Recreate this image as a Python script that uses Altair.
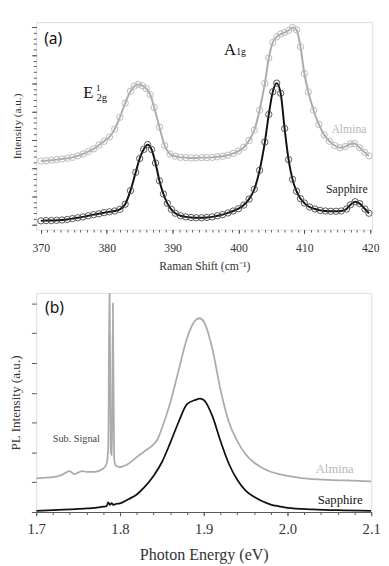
import altair as alt
import pandas as pd

SERIF = "Liberation Serif"

# ---------------- (a) Raman spectra ----------------
raman_shift_almina = [370.0, 370.8, 371.6, 372.4, 373.2, 374.0, 374.8, 375.6, 376.4, 377.2,
                      378.0, 378.8, 379.6, 380.4, 381.2, 382.0, 382.8, 383.6, 384.2, 384.8,
                      385.4, 386.0, 386.6, 387.2, 388.0, 388.8, 389.6, 390.4, 391.2, 392.0,
                      392.8, 393.6, 394.4, 395.2, 396.0, 396.8, 397.6, 398.4, 399.2, 400.0,
                      400.8, 401.6, 402.4, 403.2, 404.0, 404.6, 405.2, 405.8, 406.4, 407.0,
                      407.6, 408.2, 408.8, 409.4, 410.0, 410.6, 411.4, 412.2, 413.0, 413.8,
                      414.6, 415.4, 416.2, 417.0, 417.6, 418.4, 419.2, 419.8]
raman_int_almina = [2.25, 2.26, 2.28, 2.30, 2.32, 2.35, 2.38, 2.43, 2.50, 2.58,
                    2.68, 2.82, 2.95, 3.10, 3.38, 3.80, 4.30, 4.72, 4.90, 4.96,
                    4.92, 4.82, 4.60, 4.15, 3.45, 2.80, 2.50, 2.42, 2.38, 2.37,
                    2.36, 2.36, 2.37, 2.37, 2.38, 2.40, 2.42, 2.46, 2.52, 2.60,
                    2.74, 2.98, 3.35, 4.05, 5.00, 5.90, 6.45, 6.65, 6.75, 6.80,
                    6.88, 6.98, 6.90, 6.30, 5.35, 4.70, 4.05, 3.55, 3.18, 2.95,
                    2.80, 2.72, 2.76, 2.86, 2.87, 2.72, 2.55, 2.43]

raman_shift_sapph = [370.0, 370.8, 371.6, 372.4, 373.2, 374.0, 374.8, 375.6, 376.4, 377.2,
                     378.0, 378.8, 379.6, 380.4, 381.2, 382.0, 382.8, 383.6, 384.4, 385.0,
                     385.6, 386.2, 386.8, 387.4, 388.0, 388.6, 389.2, 389.8, 390.4, 391.2,
                     392.0, 392.8, 393.6, 394.4, 395.2, 396.0, 396.8, 397.6, 398.4, 399.2,
                     400.0, 400.8, 401.6, 402.4, 403.2, 404.0, 404.6, 405.2, 405.8, 406.4,
                     407.0, 407.6, 408.2, 408.8, 409.4, 410.0, 410.8, 411.6, 412.4, 413.2,
                     414.0, 414.8, 415.6, 416.4, 417.0, 417.7, 418.4, 419.2, 419.8]
raman_int_sapph = [0.13, 0.14, 0.14, 0.15, 0.16, 0.18, 0.21, 0.24, 0.27, 0.31,
                   0.35, 0.38, 0.42, 0.45, 0.48, 0.54, 0.72, 1.20, 1.85, 2.34,
                   2.66, 2.83, 2.66, 2.18, 1.55, 1.08, 0.75, 0.54, 0.40, 0.31,
                   0.27, 0.25, 0.24, 0.24, 0.25, 0.27, 0.31, 0.35, 0.41, 0.48,
                   0.56, 0.69, 0.90, 1.25, 1.92, 2.92, 3.90, 4.70, 5.01, 4.65,
                   3.40, 2.30, 1.60, 1.18, 0.92, 0.76, 0.62, 0.55, 0.50, 0.48,
                   0.47, 0.47, 0.48, 0.55, 0.70, 0.81, 0.74, 0.55, 0.40]

raman_ticks = [370, 380, 390, 400, 410, 420]
raman_minor = list(range(370, 421))
raman_y_ticks = [0, 1, 2, 3, 4, 5, 6, 7]
raman_y_minor = [round(i * 0.2, 1) for i in range(0, 36)]

# ---------------- (b) PL spectra ----------------
pl_energy_almina = [1.700, 1.710, 1.720, 1.730, 1.740, 1.745, 1.750, 1.755, 1.760, 1.770,
                    1.780, 1.784, 1.786, 1.7875, 1.789, 1.7905, 1.7915, 1.793, 1.795, 1.800,
                    1.810, 1.820, 1.830, 1.840, 1.845, 1.850, 1.860, 1.870, 1.880, 1.890,
                    1.895, 1.900, 1.910, 1.920, 1.930, 1.940, 1.950, 1.960, 1.970, 1.980,
                    1.990, 2.000, 2.020, 2.050, 2.080, 2.100]
pl_int_almina = [1.13, 1.15, 1.17, 1.24, 1.37, 1.27, 1.32, 1.37, 1.35, 1.35,
                 1.46, 1.62, 2.2, 7.8, 2.0, 1.9, 7.0, 1.8, 1.55, 1.51,
                 1.62, 1.84, 2.05, 2.27, 2.45, 2.81, 3.67, 4.75, 5.83, 6.43,
                 6.50, 6.39, 5.51, 4.10, 3.02, 2.38, 1.94, 1.66, 1.48, 1.35,
                 1.27, 1.21, 1.13, 1.08, 1.05, 1.03]

pl_energy_sapph = [1.700, 1.720, 1.740, 1.760, 1.770, 1.780, 1.784, 1.786, 1.788, 1.790,
                   1.792, 1.795, 1.800, 1.810, 1.820, 1.830, 1.840, 1.850, 1.860, 1.870,
                   1.880, 1.890, 1.895, 1.900, 1.910, 1.920, 1.930, 1.940, 1.950, 1.960,
                   1.970, 1.980, 1.990, 2.000, 2.030, 2.060, 2.100]
pl_int_sapph = [0.04, 0.06, 0.09, 0.12, 0.14, 0.18, 0.20, 0.32, 0.24, 0.30,
                0.24, 0.27, 0.29, 0.43, 0.59, 0.86, 1.21, 1.67, 2.32, 3.02,
                3.62, 3.76, 3.80, 3.76, 3.24, 2.38, 1.62, 1.08, 0.72, 0.51,
                0.36, 0.25, 0.19, 0.14, 0.09, 0.06, 0.04]

pl_ticks = [1.7, 1.8, 1.9, 2.0, 2.1]
pl_minor = [round(1.70 + i * 0.02, 2) for i in range(0, 21)]
pl_y_ticks = [0, 1, 2, 3, 4, 5, 6, 7]

# annotation labels (data coordinates)
raman_labels = [
    ("(a)", 370.5, 6.39, "sans", 16, "#111"),
    ("E", 376.43, 4.48, "serif", 17, "#111"),
    ("1", 378.36, 4.74, "serif", 9.5, "#111"),
    ("2g", 378.43, 4.36, "serif", 11, "#111"),
    ("A", 397.8, 6.02, "serif", 17, "#111"),
    ("1g", 399.65, 5.99, "serif", 10, "#111"),
    ("Almina", 414.1, 3.23, "serif", 12, "#b8b8b8"),
    ("Sapphire", 413.3, 1.13, "serif", 12, "#222"),
]
pl_labels = [
    ("(b)", 1.7105, 6.68, "sans", 16, "#111"),
    ("Sub. Signal", 1.7198, 2.34, "serif", 10.5, "#444"),
    ("Almina", 2.0337, 1.30, "serif", 13, "#b8b8b8"),
    ("Sapphire", 2.036, 0.27, "serif", 13, "#111"),
]

GRAY_LINE = "#ababab"
GRAY_PT = "#b8b8b8"


def text_layers(labels, xs, ys):
    layers = []
    for txt, x, y, fam, size, col in labels:
        df = pd.DataFrame({"x": [x], "y": [y], "t": [txt]})
        font = SERIF if fam == "serif" else "Noto Sans"
        layers.append(
            alt.Chart(df).mark_text(align="left", baseline="alphabetic", font=font,
                                    fontSize=size, color=col)
            .encode(x=alt.X("x:Q", scale=xs, axis=None),
                    y=alt.Y("y:Q", scale=ys, axis=None),
                    text="t:N")
        )
    return layers


# ---------- panel (a) ----------
xa = alt.Scale(domain=[369.3, 420.3], nice=False, zero=False)
ya = alt.Scale(domain=[-0.18, 7.17], nice=False, zero=False)

df_ra = pd.DataFrame({"x": raman_shift_almina, "y": raman_int_almina})
df_rs = pd.DataFrame({"x": raman_shift_sapph, "y": raman_int_sapph})

ax_major_x = alt.Axis(values=raman_ticks, format="d", orient="bottom", domain=False, grid=False,
                      tickSize=4, tickColor="#555", labelFont=SERIF, labelFontSize=12,
                      labelColor="#333", labelPadding=9, labelFlush=False, labelOverlap=False,
                      title="Raman Shift (cm\u207b\u00b9)", titleFont=SERIF, titleFontSize=12,
                      titleFontWeight="normal", titleColor="#333", titlePadding=8)
ax_minor_x = alt.Axis(values=raman_minor, orient="bottom", domain=False, grid=False, labels=False,
                      tickSize=2.5, tickColor="#555", title=None)
ax_major_y = alt.Axis(values=raman_y_ticks, orient="left", domain=False, grid=False, labels=False,
                      tickSize=5, tickColor="#555", title="Intensity (a.u.)", titleFont=SERIF,
                      titleFontSize=11.5, titleFontWeight="normal", titleColor="#333",
                      titlePadding=9)
ax_minor_y = alt.Axis(values=raman_y_minor, orient="left", domain=False, grid=False, labels=False,
                      tickSize=3, tickColor="#555", title=None)

a_line_al = alt.Chart(df_ra).mark_line(interpolate="monotone", color=GRAY_LINE, strokeWidth=2).encode(
    x=alt.X("x:Q", scale=xa, axis=ax_major_x), y=alt.Y("y:Q", scale=ya, axis=ax_major_y))
a_pts_al = alt.Chart(df_ra).mark_point(shape="circle", filled=False, size=42, strokeWidth=1,
                                       color=GRAY_PT, opacity=1).encode(
    x=alt.X("x:Q", scale=xa, axis=ax_minor_x), y=alt.Y("y:Q", scale=ya, axis=ax_minor_y))
a_line_sa = alt.Chart(df_rs).mark_line(interpolate="monotone", color="#111", strokeWidth=2).encode(
    x=alt.X("x:Q", scale=xa, axis=None), y=alt.Y("y:Q", scale=ya, axis=None))
a_pts_sa = alt.Chart(df_rs).mark_point(shape="circle", filled=False, size=42, strokeWidth=0.9,
                                       color="#444", opacity=1).encode(
    x=alt.X("x:Q", scale=xa, axis=None), y=alt.Y("y:Q", scale=ya, axis=None))

panel_a = alt.layer(a_line_al, a_pts_al, a_line_sa, a_pts_sa,
                    *text_layers(raman_labels, xa, ya)).resolve_axis(
    x="independent", y="independent").properties(width=345, height=213)

# ---------- panel (b) ----------
xb = alt.Scale(domain=[1.7, 2.1], nice=False, zero=False)
yb = alt.Scale(domain=[0, 7.35], nice=False, zero=False)

df_pa = pd.DataFrame({"x": pl_energy_almina, "y": pl_int_almina})
df_ps = pd.DataFrame({"x": pl_energy_sapph, "y": pl_int_sapph})

bx_major = alt.Axis(values=pl_ticks, format=".1f", orient="bottom", domain=True, domainColor="#555",
                    grid=False, tickSize=4, tickColor="#555", labelFont=SERIF, labelFontSize=15,
                    labelColor="#333", labelPadding=6, labelFlush=False, labelOverlap=False,
                    title="Photon Energy (eV)", titleFont=SERIF, titleFontSize=16.5,
                    titleFontWeight="normal", titleColor="#333", titlePadding=11)
bx_minor = alt.Axis(values=pl_minor, orient="bottom", domain=False, grid=False, labels=False,
                    tickSize=2.5, tickColor="#555", title=None)
by_major = alt.Axis(values=pl_y_ticks, orient="left", domain=False, grid=False, labels=False,
                    tickSize=5, tickColor="#555", title="PL Intensity (a.u.)", titleFont=SERIF,
                    titleFontSize=13.5, titleFontWeight="normal", titleColor="#333",
                    titlePadding=9)

b_line_al = alt.Chart(df_pa).mark_line(interpolate="monotone", color=GRAY_LINE, strokeWidth=1.8,
                                       clip=True).encode(
    x=alt.X("x:Q", scale=xb, axis=bx_major), y=alt.Y("y:Q", scale=yb, axis=by_major))
b_line_sa = alt.Chart(df_ps).mark_line(interpolate="monotone", color="#111", strokeWidth=1.8,
                                       clip=True).encode(
    x=alt.X("x:Q", scale=xb, axis=bx_minor), y=alt.Y("y:Q", scale=yb, axis=None))

panel_b = alt.layer(b_line_al, b_line_sa, *text_layers(pl_labels, xb, yb)).resolve_axis(
    x="independent", y="independent").properties(width=344, height=225)

chart = alt.vconcat(panel_a, panel_b, spacing=20).properties(
    padding={"left": 0, "top": 6, "right": 0, "bottom": 0}
).configure_view(stroke="#777", strokeWidth=1.2).configure(background="white")

chart.save("out.html", embed_options={"renderer": "svg", "actions": False})
